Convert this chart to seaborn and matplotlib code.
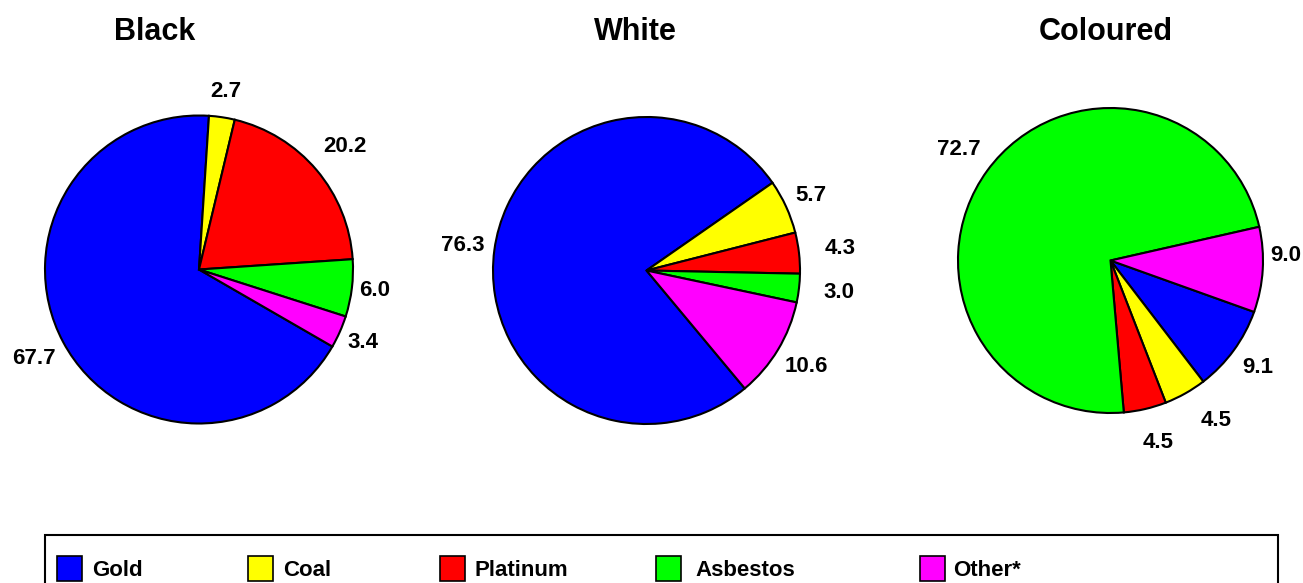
import matplotlib
matplotlib.use("Agg")
import matplotlib.pyplot as plt
import seaborn as sns
import numpy as np
from matplotlib.patches import Rectangle

# Share of mine workers by commodity (%), per population group
categories = ["Gold", "Coal", "Platinum", "Asbestos", "Other*"]
groups = ["Black", "White", "Coloured"]
black_share = [67.7, 2.7, 20.2, 6.0, 3.4]
white_share = [76.3, 5.7, 4.3, 3.0, 10.6]
coloured_share = [9.1, 4.5, 4.5, 72.7, 9.0]
shares = {"Black": black_share, "White": white_share, "Coloured": coloured_share}

sns.set_theme(style="white")
plt.rcParams["font.family"] = ["Liberation Sans", "DejaVu Sans"]
plt.rcParams["font.weight"] = "bold"

palette = sns.color_palette(["#0000FF", "#FFFF00", "#FF0000", "#00FF00", "#FF00FF"])

W, H = 1303, 583
fig = plt.figure(figsize=(W / 100, H / 100), dpi=100)
fig.patch.set_facecolor("white")

# pie geometry in pixels: centre, radius, angle where the first slice begins, title x
layout = {
    "Black": dict(cx=199.0, cy=269.5, r=154.0, start=-30.0, tx=154.5),
    "White": dict(cx=646.5, cy=270.5, r=153.5, start=-50.2, tx=635.0),
    "Coloured": dict(cx=1110.5, cy=260.5, r=152.5, start=-19.7, tx=1106.0),
}
# radial distance of each value label (in radii) and a small angular nudge (deg)
label_dist = {
    "Black": [1.219, 1.167, 1.238, 1.152, 1.166],
    "White": [1.209, 1.179, 1.268, 1.264, 1.217],
    "Coloured": [1.192, 1.256, 1.236, 1.235, 1.148],
}
label_nudge = {
    "Black": [0, 0, 0, 0, 0],
    "White": [0, 0, 0, 0, 0],
    "Coloured": [0, 4.0, 1.5, 0, 5.0],
}

edge_lw = 1.5
k = 1.3
for g in groups:
    p = layout[g]
    side = 2 * k * p["r"]
    ax = fig.add_axes([(p["cx"] - k * p["r"]) / W,
                       (H - p["cy"] - k * p["r"]) / H,
                       side / W, side / H])
    vals = shares[g]
    wedges, _ = ax.pie(vals, colors=palette, startangle=p["start"],
                       counterclock=False, radius=1.0,
                       wedgeprops=dict(edgecolor="black", linewidth=edge_lw))
    for i, (w, v) in enumerate(zip(wedges, vals)):
        mid = np.deg2rad((w.theta1 + w.theta2) / 2 + label_nudge[g][i])
        d = label_dist[g][i]
        ax.text(d * np.cos(mid), d * np.sin(mid), f"{v:.1f}",
                ha="center", va="center", fontsize=16, fontweight="bold",
                color="black")
    ax.set_xlim(-k, k)
    ax.set_ylim(-k, k)
    ax.set_axis_off()
    fig.text(p["tx"] / W, 1 - 40 / H, g, ha="center", va="baseline",
             fontsize=22, fontweight="bold", color="black")

# legend strip along the bottom, laid out in pixel coordinates
lax = fig.add_axes([0, 0, 1, 1], zorder=-1)
lax.set_xlim(0, W)
lax.set_ylim(H, 0)
lax.set_axis_off()
lax.add_patch(Rectangle((45, 535), 1278 - 45, 80, facecolor="white",
                        edgecolor="black", linewidth=1.5, clip_on=False))
marker_x = [57, 248, 440, 656, 920]
text_x = [92, 283, 474, 695, 953]
for name, col, mx, tx in zip(categories, palette, marker_x, text_x):
    lax.add_patch(Rectangle((mx, 556), 25, 25, facecolor=col,
                            edgecolor="black", linewidth=1.2))
    lax.text(tx, 570, name, ha="left", va="center", fontsize=16,
             fontweight="bold", color="black")

fig.savefig("out.png", dpi=100, facecolor="white")
